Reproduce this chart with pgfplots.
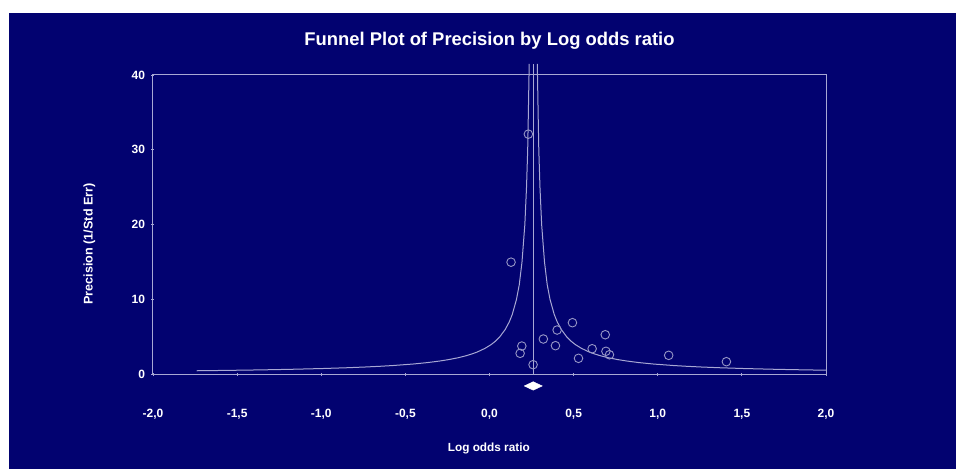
\documentclass[border=0pt]{standalone}
\usepackage{fontspec}
\setmainfont{Liberation Sans}
\usepackage{pgfplots}
\pgfplotsset{compat=1.18}
\definecolor{navybg}{RGB}{2,2,112}
\definecolor{fgline}{RGB}{168,168,212}
\definecolor{ptline}{RGB}{150,150,198}

\begin{document}
\begin{tikzpicture}
% page and panel
\fill[white] (-153pt,-94.5pt) rectangle (803pt,374.5pt);
\fill[navybg] (-144pt,-94.5pt) rectangle (803pt,361.5pt);
\begin{axis}[
  scale only axis,
  width=673pt, height=299.5pt,
  xmin=-2, xmax=2, ymin=0, ymax=40,
  clip=false,
  axis line style={fgline, line width=1pt},
  tick style={fgline, line width=0.8pt},
  major tick length=3pt,
  tick align=center,
  xtick pos=bottom, ytick pos=left,
  xtick={-2,-1.5,-1,-0.5,0,0.5,1,1.5,2},
  xticklabels={{-2,0},{-1,5},{-1,0},{-0,5},{0,0},{0,5},{1,0},{1,5},{2,0}},
  ytick={0,10,20,30,40},
  yticklabels={0,10,20,30,40},
  ticklabel style={font=\fontsize{12}{14}\selectfont\bfseries, text=white},
  xticklabel style={anchor=center, yshift=-38.5pt},
  yticklabel style={anchor=east, xshift=-3pt},
  title={Funnel Plot of Precision by Log odds ratio},
  title style={at={(axis description cs:0.5,1.0935)}, anchor=center,
    font=\fontsize{18.4}{21}\selectfont\bfseries, text=white},
  xlabel={Log odds ratio},
  xlabel style={at={(axis description cs:0.499,-0.2454)}, anchor=center,
    font=\fontsize{11.8}{14}\selectfont\bfseries, text=white},
  ylabel={Precision (1/Std Err)},
  ylabel style={at={(axis description cs:-0.0947,0.436)}, anchor=center,
    font=\fontsize{12.6}{14}\selectfont\bfseries, text=white},
]
% left funnel limit
\addplot[fgline, line width=1pt, no marks] coordinates {
  (-1.740,0.5) (-1.558,0.55) (-1.407,0.6) (-1.278,0.65) (-1.169,0.7)
  (-0.990,0.8) (-0.851,0.9) (-0.740,1.0) (-0.649,1.1) (-0.573,1.2)
  (-0.454,1.4) (-0.365,1.6) (-0.296,1.8) (-0.240,2.0) (-0.184,2.25)
  (-0.140,2.5) (-0.104,2.75) (-0.073,3.0) (-0.026,3.5) (0.010,4.0)
  (0.038,4.5) (0.060,5) (0.093,6) (0.117,7) (0.135,8) (0.160,10)
  (0.177,12) (0.193,15) (0.210,20) (0.220,25) (0.227,30) (0.231,35)
  (0.236,41.5)
};
% right funnel limit
\addplot[fgline, line width=1pt, no marks] coordinates {
  (2.000,0.575) (1.927,0.6) (1.798,0.65) (1.689,0.7) (1.510,0.8)
  (1.371,0.9) (1.260,1.0) (1.169,1.1) (1.093,1.2) (0.974,1.4)
  (0.885,1.6) (0.816,1.8) (0.760,2.0) (0.704,2.25) (0.660,2.5)
  (0.624,2.75) (0.593,3) (0.546,3.5) (0.510,4) (0.482,4.5) (0.460,5)
  (0.427,6) (0.403,7) (0.385,8) (0.360,10) (0.343,12) (0.327,15)
  (0.310,20) (0.300,25) (0.293,30) (0.289,35) (0.284,41.5)
};
% combined effect line
\addplot[fgline, line width=1pt, no marks] coordinates {(0.26,0) (0.26,41.5)};
% studies
\addplot[only marks, mark=o, mark size=4.3pt, ptline, line width=0.9pt] coordinates {
  (0.128,15.0) (0.192,3.8) (0.182,2.83) (0.259,1.31) (0.320,4.74)
  (0.402,5.94) (0.392,3.85) (0.493,6.92) (0.529,2.16) (0.610,3.44)
  (0.688,5.31) (0.692,3.10) (0.713,2.64) (1.065,2.56) (1.408,1.71)
  (0.231,32.1)
};
% summary diamond
\addplot[fill=white, draw=white, line width=0.5pt, no marks] coordinates {
  (0.207,-1.53) (0.26,-0.97) (0.313,-1.53) (0.26,-2.09) (0.207,-1.53)
};
\end{axis}
\end{tikzpicture}
\end{document}
